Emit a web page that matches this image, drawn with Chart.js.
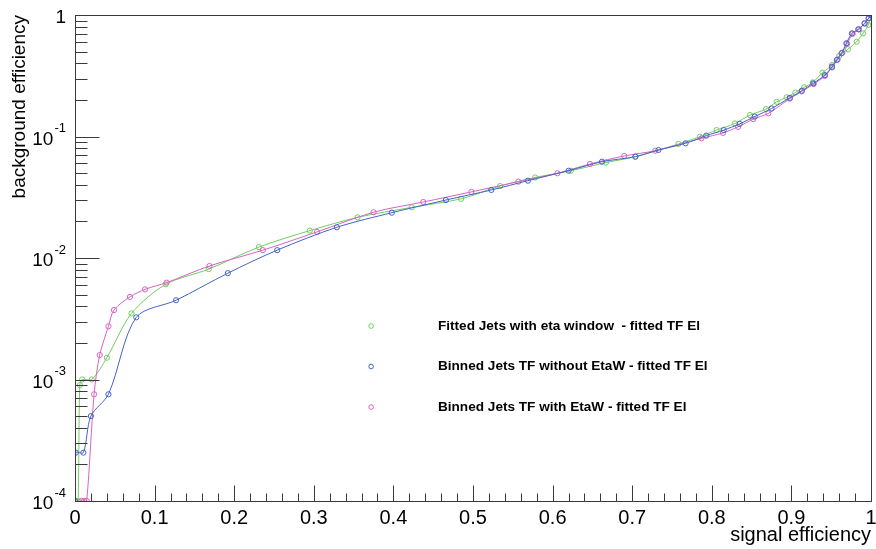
<!DOCTYPE html>
<html>
<head>
<meta charset="utf-8">
<script src="https://cdn.jsdelivr.net/npm/chart.js@4.4.1/dist/chart.umd.min.js"></script>
<style>
  html, body { margin: 0; padding: 0; background: #ffffff; }
  #wrap { width: 876px; height: 549px; }
</style>
</head>
<body>
<div id="wrap"><canvas id="c" width="876" height="549"></canvas></div>
<script>
// ---- data ----
const seriesLabels = [
  'Fitted Jets with eta window  - fitted TF El',
  'Binned Jets TF without EtaW - fitted TF El',
  'Binned Jets TF with EtaW - fitted TF El'
];

const greenX = [0.000, 0.002, 0.004, 0.006, 0.009, 0.021, 0.040, 0.071, 0.114, 0.168, 0.231, 0.295, 0.355, 0.423, 0.485, 0.534, 0.578, 0.623, 0.667, 0.704, 0.758, 0.785, 0.806, 0.829, 0.848, 0.868, 0.8815, 0.894, 0.905, 0.916, 0.927, 0.939, 0.951, 0.960, 0.971, 0.982, 0.990, 0.9966, 1.000];
const greenY = [1e-4, 1e-4, 1e-4, 9.0e-4, 1.0e-3, 1.0e-3, 1.51e-3, 3.5e-3, 6.07e-3, 8.1e-3, 1.23e-2, 1.68e-2, 2.16e-2, 2.61e-2, 3.07e-2, 3.91e-2, 4.6e-2, 5.23e-2, 6.1e-2, 6.82e-2, 8.68e-2, 9.96e-2, 0.113, 0.128, 0.150, 0.168, 0.193, 0.21, 0.23, 0.254, 0.279, 0.335, 0.387, 0.46, 0.522, 0.603, 0.706, 0.828, 1.0];

const blueX = [0.000, 0.001, 0.0105, 0.020, 0.042, 0.077, 0.127, 0.192, 0.254, 0.329, 0.398, 0.466, 0.523, 0.569, 0.620, 0.662, 0.704, 0.733, 0.767, 0.793, 0.815, 0.835, 0.854, 0.875, 0.898, 0.913, 0.9275, 0.942, 0.951, 0.957, 0.963, 0.969, 0.976, 0.984, 0.992, 0.997, 1.000];
const blueY = [1e-4, 2.5e-4, 2.5e-4, 5.0e-4, 7.56e-4, 3.25e-3, 4.49e-3, 7.5e-3, 1.16e-2, 1.79e-2, 2.36e-2, 3.0e-2, 3.63e-2, 4.33e-2, 5.23e-2, 6.2e-2, 6.82e-2, 7.74e-2, 8.79e-2, 0.1016, 0.113, 0.127, 0.146, 0.17, 0.208, 0.238, 0.274, 0.32, 0.375, 0.427, 0.484, 0.585, 0.706, 0.763, 0.855, 0.94, 1.0];

const pinkX = [0.008, 0.0113, 0.0147, 0.024, 0.031, 0.042, 0.049, 0.069, 0.088, 0.115, 0.169, 0.236, 0.304, 0.375, 0.4375, 0.498, 0.557, 0.606, 0.647, 0.690, 0.729, 0.787, 0.814, 0.833, 0.852, 0.871, 0.898, 0.913, 0.928, 0.942, 0.951, 0.958, 0.964, 0.970, 0.977, 0.985, 0.992, 0.997, 1.000];
const pinkY = [1e-4, 1e-4, 1e-4, 7.56e-4, 1.59e-3, 2.74e-3, 3.73e-3, 4.78e-3, 5.52e-3, 6.27e-3, 8.6e-3, 1.16e-2, 1.64e-2, 2.38e-2, 2.89e-2, 3.5e-2, 4.25e-2, 4.98e-2, 5.94e-2, 6.92e-2, 7.64e-2, 9.66e-2, 0.107, 0.12, 0.139, 0.155, 0.205, 0.235, 0.27, 0.315, 0.37, 0.43, 0.49, 0.58, 0.70, 0.76, 0.85, 0.94, 1.0];

const xTickValues = [0, 0.1, 0.2, 0.3, 0.4, 0.5, 0.6, 0.7, 0.8, 0.9, 1];
const yDecadeExponents = [-4, -3, -2, -1, 0];

const xTitle = 'signal efficiency';
const yTitle = 'background efficiency';

// ---- styling ----
const FONT = "'Liberation Sans', Arial, Helvetica, sans-serif";
const colGreen = '#6fcf5f';
const colBlue = '#4363c8';
const colPink = '#d962c4';

function pts(xs, ys) { return xs.map((x, i) => ({ x: x, y: ys[i] })); }

function ds(label, xs, ys, color, order) {
  return {
    label: label,
    data: pts(xs, ys),
    borderColor: color,
    backgroundColor: 'rgba(0,0,0,0)',
    pointBorderColor: color,
    pointBackgroundColor: 'rgba(0,0,0,0)',
    pointRadius: 2.6,
    pointBorderWidth: 1,
    borderWidth: 1,
    tension: 0.3,
    showLine: true,
    order: order
  };
}

const rootFrame = {
  id: 'rootFrame',
  afterDatasetsDraw(chart) {
    const ctx = chart.ctx;
    const a = chart.chartArea;
    const xs = chart.scales.x, ys = chart.scales.y;
    ctx.save();
    ctx.strokeStyle = '#3a3a3a';
    ctx.lineWidth = 1;
    // frame
    ctx.strokeRect(Math.round(a.left) + 0.5, Math.round(a.top) + 0.5,
                   Math.round(a.right - a.left), Math.round(a.bottom - a.top));
    // x ticks (inside)
    const yb = Math.round(a.bottom) + 0.5;
    ctx.beginPath();
    for (let i = 0; i <= 50; i++) {
      const v = i / 50;
      const px = Math.round(xs.getPixelForValue(v)) + 0.5;
      const len = (i % 5 === 0) ? 16 : 8;
      ctx.moveTo(px, yb);
      ctx.lineTo(px, yb - len);
    }
    // y ticks (inside)
    const xl = Math.round(a.left) + 0.5;
    for (let e = -4; e <= 0; e++) {
      for (let m = 1; m <= 9; m++) {
        const v = m * Math.pow(10, e);
        if (v > 1.0000001) break;
        const py = Math.round(ys.getPixelForValue(v)) + 0.5;
        const len = (m === 1) ? 24 : 12;
        ctx.moveTo(xl, py);
        ctx.lineTo(xl + len, py);
      }
    }
    ctx.stroke();

    // y tick labels with superscripts
    ctx.fillStyle = '#000';
    ctx.textBaseline = 'middle';
    const rightEdge = a.left - 9;
    yDecadeExponents.forEach(e => {
      const py = ys.getPixelForValue(Math.pow(10, e));
      if (e === 0) {
        ctx.font = '19px ' + FONT;
        ctx.textAlign = 'right';
        ctx.fillText('1', rightEdge, py + 3);
      } else {
        const sup = String(e);
        ctx.font = '13px ' + FONT;
        const wSup = ctx.measureText(sup).width;
        ctx.textAlign = 'right';
        ctx.fillText(sup, rightEdge, py - 8);
        ctx.font = '19px ' + FONT;
        ctx.fillText('10', rightEdge - wSup - 1, py + 3);
      }
    });

    // legend
    const items = [
      { label: seriesLabels[0], color: colGreen },
      { label: seriesLabels[1], color: colBlue },
      { label: seriesLabels[2], color: colPink }
    ];
    const lx = a.left + 0.372 * (a.right - a.left);
    const tx = a.left + 0.456 * (a.right - a.left);
    const ly0 = a.top + 0.64 * (a.bottom - a.top);
    const dy = 40.5;
    items.forEach((it, i) => {
      const y = ly0 + i * dy;
      ctx.beginPath();
      ctx.strokeStyle = it.color;
      ctx.lineWidth = 1;
      ctx.arc(lx, y, 2.3, 0, Math.PI * 2);
      ctx.stroke();
      ctx.fillStyle = '#000';
      ctx.font = 'bold 13.6px ' + FONT;
      ctx.textAlign = 'left';
      ctx.textBaseline = 'middle';
      ctx.fillText(it.label, tx, y);
    });
    ctx.restore();
  }
};

new Chart(document.getElementById('c'), {
  type: 'scatter',
  data: {
    datasets: [
      ds(seriesLabels[0], greenX, greenY, colGreen, 2),
      ds(seriesLabels[1], blueX, blueY, colBlue, 0),
      ds(seriesLabels[2], pinkX, pinkY, colPink, 1)
    ]
  },
  options: {
    responsive: false,
    animation: false,
    devicePixelRatio: 1,
    layout: { padding: { top: 15, right: 0, left: 0, bottom: 0 } },
    plugins: { legend: { display: false }, tooltip: { enabled: false } },
    scales: {
      x: {
        type: 'linear', min: 0, max: 1, position: 'bottom',
        afterFit: s => { s.height = 48; s.paddingRight = 5; },
        afterBuildTicks: s => { s.ticks = xTickValues.map(v => ({ value: v })); },
        grid: { display: false, drawTicks: false },
        border: { display: false },
        ticks: {
          autoSkip: false, maxRotation: 0, padding: 5, color: '#000',
          font: { family: FONT, size: 20 },
          callback: v => String(Math.round(v * 10) / 10)
        },
        title: {
          display: true, text: xTitle, align: 'end', color: '#000',
          font: { family: FONT, size: 20 }, padding: { top: 0, bottom: 2 }
        }
      },
      y: {
        type: 'logarithmic', min: 1e-4, max: 1, position: 'left',
        afterFit: s => { s.width = 75; },
        grid: { display: false, drawTicks: false },
        border: { display: false },
        ticks: { display: false },
        title: {
          display: true, text: yTitle, align: 'end', color: '#000',
          font: { family: FONT, size: 19 }, padding: { top: 8, bottom: 0 }
        }
      }
    }
  },
  plugins: [rootFrame]
});
</script>
</body>
</html>
